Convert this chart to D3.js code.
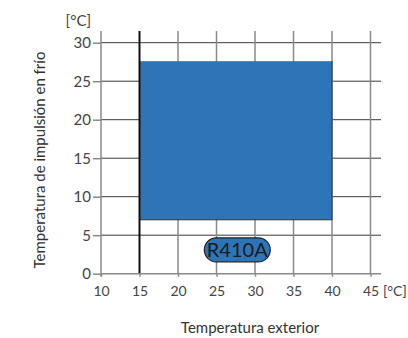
<!DOCTYPE html>
<html><head><meta charset="utf-8">
<script src="https://cdn.jsdelivr.net/npm/d3@7"></script>
<style>html,body{margin:0;padding:0;background:#fff;}svg{display:block;}</style>
</head><body>
<svg id="c" width="408" height="338"></svg>
<script>
const xTicks = [10, 15, 20, 25, 30, 35, 40, 45];
const yTicks = [0, 5, 10, 15, 20, 25, 30];
const envelopeX = [15, 40];
const envelopeY = [7, 27.6];
const seriesLabel = "R410A";
const labelPos = [27.7, 3.1];
const xUnit = "[°C]";
const yUnit = "[°C]";
const xTitle = "Temperatura exterior";
const yTitle = "Temperatura de impulsión en frío";

(function () {
const svg = d3.select("#c");
const font = "Lato, 'Open Sans', sans-serif";
const x = d3.scaleLinear().domain([10, 45]).range([101, 370.5]);
const y = d3.scaleLinear().domain([0, 30]).range([273.7, 42.7]);
const yTop = 31, xRight = 381;

// horizontal gridlines
svg.append("g").selectAll("line").data(yTicks.filter(d => d > 0)).join("line")
  .attr("x1", x(10)).attr("x2", xRight)
  .attr("y1", d => y(d)).attr("y2", d => y(d))
  .attr("stroke", "#3a3a3a").attr("stroke-width", 1);

// vertical gridlines
svg.append("g").selectAll("line").data(xTicks.filter(d => d > 15)).join("line")
  .attr("x1", d => x(d)).attr("x2", d => x(d))
  .attr("y1", yTop).attr("y2", y(0))
  .attr("stroke", "#8a8a8a").attr("stroke-width", 1.5);

// envelope rect
svg.append("rect")
  .attr("x", x(envelopeX[0])).attr("y", y(envelopeY[1]))
  .attr("width", x(envelopeX[1]) - x(envelopeX[0]))
  .attr("height", y(envelopeY[0]) - y(envelopeY[1]))
  .attr("fill", "#2e75b8");
svg.append("path")
  .attr("d", d3.line()([[x(envelopeX[1]), y(envelopeY[1])], [x(envelopeX[1]), y(envelopeY[0])], [x(envelopeX[0]), y(envelopeY[0])]]))
  .attr("fill", "none").attr("stroke", "#333").attr("stroke-width", 1);

// 15 line black
svg.append("line")
  .attr("x1", x(15)).attr("x2", x(15)).attr("y1", yTop).attr("y2", y(0))
  .attr("stroke", "#111").attr("stroke-width", 2);

// axes
const yAxis = d3.axisLeft(y).tickValues(yTicks).tickSize(8).tickPadding(2);
const gy = svg.append("g").attr("transform", `translate(${x(10)},0)`).call(yAxis);
gy.select(".domain").remove();
gy.append("line").attr("x1", 0).attr("x2", 0).attr("y1", yTop).attr("y2", y(0) + 3)
  .attr("stroke", "#8a8a8a").attr("stroke-width", 1.5);
gy.selectAll(".tick line").attr("stroke", "#8a8a8a").attr("stroke-width", 1.5);
gy.selectAll(".tick text").attr("font-family", font).attr("font-size", 15).attr("fill", "#444");

const xAxis = d3.axisBottom(x).tickValues(xTicks).tickSize(3).tickPadding(9);
const gx = svg.append("g").attr("transform", `translate(0,${y(0)})`).call(xAxis);
gx.select(".domain").remove();
gx.append("line").attr("x1", x(10)).attr("x2", xRight).attr("y1", 0).attr("y2", 0)
  .attr("stroke", "#8a8a8a").attr("stroke-width", 1.5);
gx.selectAll(".tick line").attr("stroke", "#8a8a8a").attr("stroke-width", 1.5);
gx.selectAll(".tick text").attr("font-family", font).attr("font-size", 14).attr("fill", "#444");

// units
svg.append("text").attr("x", 383).attr("y", y(0) + 12).attr("dy", "0.71em").text(xUnit)
  .attr("font-family", font).attr("font-size", 14).attr("fill", "#444");
svg.append("text").attr("x", 91).attr("y", 26).attr("text-anchor", "end").text(yUnit)
  .attr("font-family", font).attr("font-size", 15).attr("fill", "#444");

// titles
svg.append("text").attr("x", 250).attr("y", 333).attr("text-anchor", "middle").text(xTitle)
  .attr("font-family", font).attr("font-size", 15).attr("fill", "#333");
svg.append("text").attr("transform", "translate(45,160) rotate(-90)").attr("text-anchor", "middle").text(yTitle)
  .attr("font-family", font).attr("font-size", 15).attr("fill", "#333");

// label pill
const lx = x(labelPos[0]), ly = y(labelPos[1]);
svg.append("rect").attr("x", lx - 33).attr("y", ly - 12).attr("width", 66).attr("height", 24)
  .attr("rx", 12).attr("fill", "#2e75b8").attr("stroke", "#222").attr("stroke-width", 1.2);
svg.append("text").attr("x", lx).attr("y", ly + 7).attr("text-anchor", "middle").text(seriesLabel)
  .attr("font-family", font).attr("font-size", 20).attr("fill", "#1a1a1a");
})();
</script>
</body></html>
